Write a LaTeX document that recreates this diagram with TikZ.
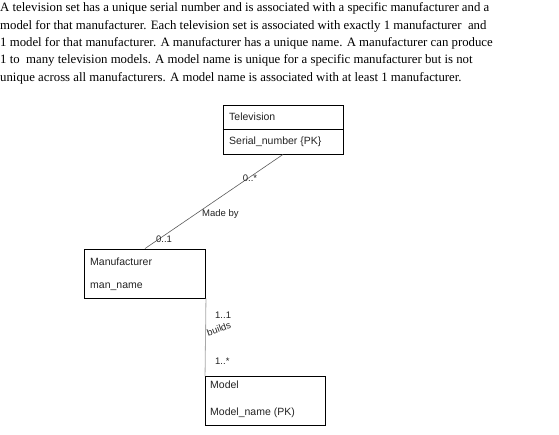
\documentclass[tikz,border=0pt]{standalone}
\usepackage{fontspec}
\setmainfont{Liberation Serif}
\setsansfont{Liberation Sans}
\usepackage{xcolor}
\usepackage{tikz}
\usetikzlibrary{positioning}
\definecolor{elink}{HTML}{5A5A5A}
\definecolor{elight}{HTML}{A8A8A8}
\definecolor{etext}{HTML}{222222}

\begin{document}
\begin{tikzpicture}[x=1pt, y=-1pt,
  entity/.style={draw=black, line width=0.9pt, minimum width=120pt, minimum height=49pt, inner sep=0pt},
  attr/.style={font=\fontsize{10.5}{12}\sffamily, text=etext, anchor=west, inner sep=0pt},
  mult/.style={font=\fontsize{9.5}{11}\sffamily, text=etext, inner sep=0pt}]
\useasboundingbox (0,0) rectangle (559,434);
\node[font=\fontsize{12.8}{17.4}\selectfont, align=left, anchor=north west, inner sep=0pt]
  (brief) at (0,2.5) {A television set has a unique serial number and is associated with a specific manufacturer and a\\
  model for that manufacturer. Each television set is associated with exactly 1 manufacturer\ \ and\\
  1 model for that manufacturer. A manufacturer has a unique name. A manufacturer can produce\\
  1 to\ \ many television models. A model name is unique for a specific manufacturer but is not\\
  unique across all manufacturers. A model name is associated with at least 1 manufacturer.};
% entities
\node[entity] (tv) at (283,129.5) {};
\draw[line width=0.6pt] (tv.west) -- (tv.east);
\node[attr] (tvname) at (229,117) {Television};
\node[attr] (tvkey) at (229,142) {Serial\_number \{PK\}};
\node[entity, minimum width=121pt] (man) at (145,273.5) {};
\node[attr] (manname) at (90,262) {Manufacturer};
\node[attr] (mankey) at (90,287) {man\_name};
\node[entity] (model) at (265.5,401) {};
\node[attr] (modelname) at (210,385) {Model};
\node[attr] (modelkey) at (210,413) {Model\_name (PK)};
% relationships
\draw[elink, line width=0.6pt] (tv.south) -- (man.north);
\node[mult] (tvmult) at (250,178) {0..*};
\node[mult, anchor=west] (madeby) at (202,214) {Made by};
\node[mult] (manmult) at (164,239) {0..1};
\draw[elight, line width=0.8pt] (man.south east) -- (model.north west);
\node[mult, anchor=west] (buildone) at (215,315) {1..1};
\node[mult, anchor=west, rotate=20] (builds) at (207,333) {builds};
\node[mult, anchor=west] (buildmany) at (215,361) {1..*};
\end{tikzpicture}
\end{document}
